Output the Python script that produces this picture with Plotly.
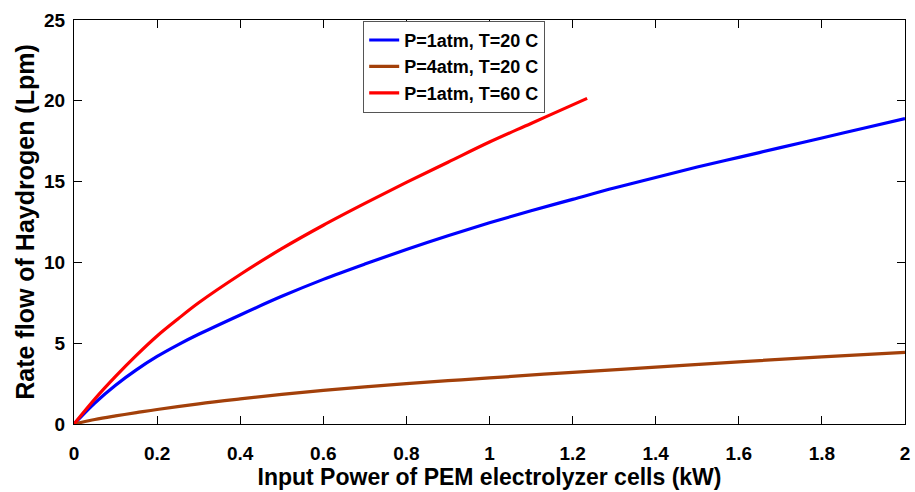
import plotly.graph_objects as go

# Data
x_blue = [0, 0.05, 0.1, 0.15, 0.2, 0.25, 0.3, 0.4, 0.5, 0.6, 0.7, 0.8, 0.9, 1.0, 1.1, 1.2, 1.3, 1.4, 1.5, 1.6, 1.7, 1.8, 1.9, 2.0]
y_blue = [0, 1.3, 2.4, 3.35, 4.18, 4.9, 5.55, 6.75, 7.9, 8.95, 9.9, 10.8, 11.65, 12.45, 13.2, 13.9, 14.6, 15.25, 15.9, 16.5, 17.1, 17.7, 18.3, 18.9]

x_brown = [0, 0.05, 0.1, 0.15, 0.2, 0.3, 0.4, 0.5, 0.6, 0.7, 0.8, 0.9, 1.0, 1.2, 1.4, 1.6, 1.8, 2.0]
y_brown = [0, 0.28, 0.5, 0.7, 0.9, 1.25, 1.55, 1.83, 2.08, 2.3, 2.5, 2.68, 2.85, 3.2, 3.52, 3.85, 4.15, 4.43]

x_red = [0, 0.05, 0.1, 0.15, 0.2, 0.25, 0.3, 0.4, 0.5, 0.6, 0.7, 0.8, 0.9, 1.0, 1.1, 1.2, 1.235]
y_red = [0, 1.55, 2.95, 4.25, 5.45, 6.5, 7.5, 9.25, 10.85, 12.3, 13.65, 14.95, 16.2, 17.45, 18.6, 19.75, 20.15]

names = ["P=1atm, T=20 C", "P=4atm, T=20 C", "P=1atm, T=60 C"]
colors = ["#0000ff", "#a3400a", "#ff0000"]

x_ticks = [0, 0.2, 0.4, 0.6, 0.8, 1, 1.2, 1.4, 1.6, 1.8, 2]
y_ticks = [0, 5, 10, 15, 20, 25]

FONT = "Liberation Sans, Arial, sans-serif"

fig = go.Figure()
for i, (xs, ys) in enumerate([(x_blue, y_blue), (x_brown, y_brown), (x_red, y_red)]):
    fig.add_trace(go.Scatter(
        x=xs, y=ys, mode="lines", name=names[i],
        line=dict(color=colors[i], width=3.2, shape="spline", smoothing=1.0),
    ))

axis_common = dict(
    showline=True, linecolor="black", linewidth=1, mirror="allticks",
    ticks="inside", ticklen=8, tickwidth=1, tickcolor="black",
    showgrid=False, zeroline=False, automargin=False,
    tickfont=dict(family=FONT, size=19, color="black", weight="bold"),
)

fig.update_layout(
    width=915, height=492,
    margin=dict(l=74, r=10, t=20, b=68, autoexpand=False),
    paper_bgcolor="white", plot_bgcolor="white",
    showlegend=True,
    legend=dict(
        x=0.348, y=0.998, xanchor="left", yanchor="top",
        bgcolor="white", bordercolor="#555555", borderwidth=1,
        font=dict(family=FONT, size=18, color="black", weight="bold"),
        traceorder="normal",
        itemwidth=30,
    ),
    xaxis=dict(
        range=[0, 2], tickvals=x_ticks, ticklabelstandoff=12,
        title=dict(text="Input Power of PEM electrolyzer cells (kW)",
                   font=dict(family=FONT, size=23, color="black", weight="bold"),
                   standoff=0),
        **axis_common,
    ),
    yaxis=dict(
        range=[0, 25], tickvals=y_ticks, ticklabelstandoff=4,
        title=dict(text="Rate flow of Haydrogen (Lpm)",
                   font=dict(family=FONT, size=25, color="black", weight="bold"),
                   standoff=2),
        **axis_common,
    ),
)

fig.write_html(
    "out.html",
    config={"displayModeBar": False},
    post_script="document.body.style.margin='0';document.body.style.overflow='hidden';",
)
